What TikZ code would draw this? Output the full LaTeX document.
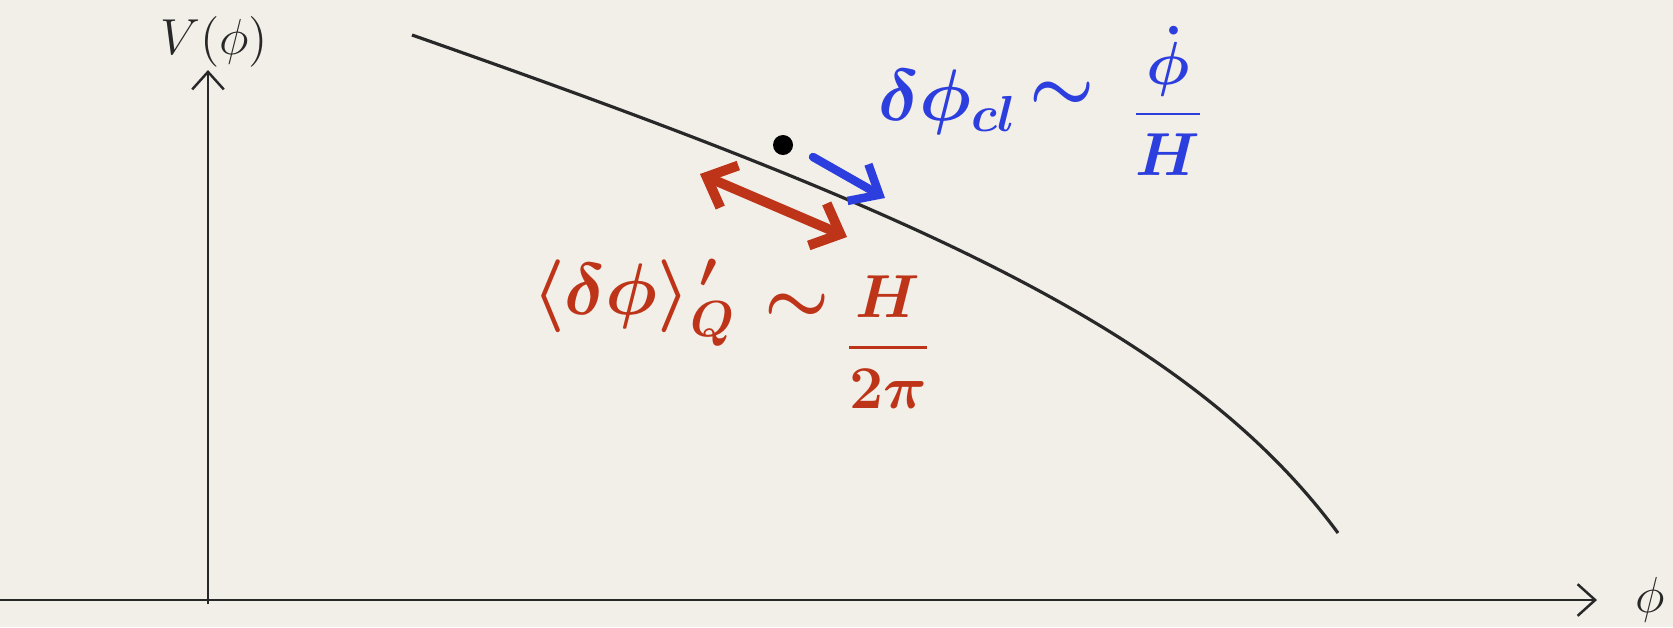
\documentclass[tikz,border=0pt]{standalone}
\usepackage{amsmath,xcolor}
\definecolor{bgcream}{RGB}{242,239,233}
\definecolor{penblue}{RGB}{45,62,222}
\definecolor{penred}{RGB}{190,52,24}
\definecolor{pengray}{RGB}{40,40,40}
\usetikzlibrary{arrows.meta,positioning,calc}

\begin{document}
\begin{tikzpicture}[x=0.01cm,y=-0.01cm,
  axis/.style={draw=pengray,line width=0.7pt,-{Straight Barb[length=5pt,width=9pt]}},
  slope/.style={draw=pengray,line width=0.9pt},
  marker/.style={font=\fontsize{22}{26}\selectfont\boldmath,inner sep=0pt},
  markerfrac/.style={font=\fontsize{17}{20}\selectfont\boldmath,inner sep=0pt},
  axlabel/.style={font=\fontsize{15}{18}\selectfont,pengray,inner sep=1pt}]
  % paper
  \fill[bgcream] (0,0) rectangle (1673,627);
  \useasboundingbox (0,0) rectangle (1673,627);
  % axes
  \coordinate (xl) at (0,600);
  \coordinate (xr) at (1597,600);
  \coordinate (yb) at (208,604);
  \coordinate (yt) at (208,70);
  \draw[axis] (xl) -- (xr);
  \draw[axis] (yb) -- (yt);
  \node[axlabel] (vphi) at (214,42) {$V(\phi)$};
  \node[axlabel] (phi) at (1650,600) {$\phi$};
  % potential
  \coordinate (top) at (412,35);
  \coordinate (end) at (1338,533);
  \draw[slope] (top) .. controls (912,210) and (1188,330) .. (end);
  \node[circle,fill=black,inner sep=0pt,minimum size=0.2cm] (ball) at (783,145) {};
  % classical roll
  \coordinate (cl1) at (813,157);
  \coordinate (cl2) at (885,198);
  \draw[penblue,line width=2.4pt,line cap=round,-{Straight Barb[length=7pt,width=12pt]}] (cl1) -- (cl2);
  \node[marker,penblue] (dcl) at (948,102) {$\delta\phi_{cl}$};
  \node[marker,penblue] (tcl) at (1062,96) {$\sim$};
  \node[markerfrac,penblue] (fcl) at (1168,101) {$\dfrac{\dot{\phi}}{H}$};
  % quantum kick
  \coordinate (q1) at (700,174);
  \coordinate (q2) at (847,237);
  \draw[penred,line width=2.8pt,line cap=round,{Straight Barb[length=7pt,width=13pt]}-{Straight Barb[length=7pt,width=13pt]}] (q1) -- (q2);
  \node[marker,penred] (dq) at (634,303) {$\langle\delta\phi\rangle^{\,\prime}_{Q}$};
  \node[marker,penred] (tq) at (797,308) {$\sim$};
  \node[markerfrac,penred] (fq) at (888,342) {$\dfrac{H}{2\pi}$};
\end{tikzpicture}
\end{document}
